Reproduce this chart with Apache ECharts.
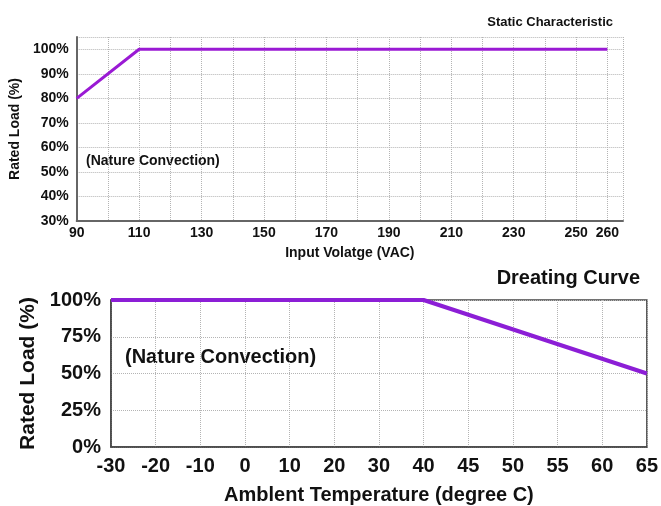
<!DOCTYPE html>
<html>
<head>
<meta charset="utf-8">
<script src="https://cdn.jsdelivr.net/npm/echarts@6/dist/echarts.min.js"></script>
<style>
	html, body { margin: 0; padding: 0; background: #fff; }
	#main { width: 661px; height: 506px; }
</style>
</head>
<body>
<div id="main"></div>
<script>
// 输入电压特性
var voltTickLabels = [ 90, 110, 130, 150, 170, 190, 210, 230, 250, 260 ];
var voltLoad = [ [ 90, 80 ], [ 110, 100 ], [ 260, 100 ] ];

// 降额曲线
var tempCategories = [ '-30', '-20', '-10', '0', '10', '20', '30', '40', '45', '50', '55', '60', '65' ];
var tempLoad = [ [ '-30', 100 ], [ '40', 100 ], [ '65', 50 ] ];

var FONT = 'Liberation Sans';

function showCharts(divId) {
	var chart = echarts.init(document.getElementById(divId));
	var option = genOption();
	if (option && typeof option === "object") {
		chart.setOption(option, true);
	}
}

function genOption() {
	var dotted = {
		show : true,
		lineStyle : {
			color : '#b4b4b4',
			type : 'dotted',
			width : 1
		}
	};
	option = {
		animation : false,
		backgroundColor : '#fff',
		textStyle : {
			fontFamily : FONT
		},
		title : [ {
			text : 'Static Characteristic',
			right : 43,
			top : 11,
			textStyle : {
				color : '#111',
				fontFamily : FONT,
				fontWeight : 'bold',
				fontSize : 13
			}
		}, {
			text : 'Dreating Curve',
			right : 16,
			top : 263,
			textStyle : {
				color : '#111',
				fontFamily : FONT,
				fontWeight : 'bold',
				fontSize : 20
			}
		} ],
		graphic : [ {
			type : 'text',
			left : 86,
			top : 154,
			style : {
				text : '(Nature Convection)',
				fill : '#111',
				font : 'bold 14px "Liberation Sans"'
			}
		}, {
			type : 'text',
			left : 125,
			top : 347,
			style : {
				text : '(Nature Convection)',
				fill : '#111',
				font : 'bold 20px "Liberation Sans"'
			}
		} ],
		grid : [ {
			left : 75,
			top : 37,
			right : 38,
			bottom : 285,
			show : false
		}, {
			left : 111,
			top : 300,
			right : 13,
			bottom : 55,
			show : true,
			borderColor : '#444',
			borderWidth : 1.5
		} ],
		xAxis : [ {
			gridIndex : 0,
			type : 'value',
			min : 90,
			max : 265,
			interval : 10,
			name : 'Input Volatge (VAC)',
			nameLocation : 'middle',
			nameGap : 25,
			nameTextStyle : {
				color : '#111',
				fontWeight : 'bold',
				fontSize : 14,
				fontFamily : FONT
			},
			axisLine : {
				show : true,
				lineStyle : {
					color : '#666',
					width : 2
				}
			},
			axisTick : {
				show : false
			},
			axisLabel : {
				color : '#111',
				fontWeight : 'bold',
				fontSize : 14,
				fontFamily : FONT,
				margin : 5,
				showMaxLabel : true,
				formatter : function(v) {
					return voltTickLabels.indexOf(v) >= 0 ? String(v) : '';
				}
			},
			splitLine : dotted
		}, {
			gridIndex : 1,
			type : 'category',
			data : tempCategories,
			boundaryGap : false,
			name : 'Amblent Temperature (degree C)',
			nameLocation : 'middle',
			nameGap : 38,
			nameTextStyle : {
				color : '#111',
				fontWeight : 'bold',
				fontSize : 20,
				fontFamily : FONT
			},
			axisLine : {
				show : true,
				lineStyle : {
					color : '#444',
					width : 1.5
				}
			},
			axisTick : {
				show : false
			},
			axisLabel : {
				color : '#111',
				fontWeight : 'bold',
				fontSize : 20,
				fontFamily : FONT,
				margin : 9,
				interval : 0
			},
			splitLine : {
				show : true,
				interval : 0,
				lineStyle : {
					color : '#b4b4b4',
					type : 'dotted',
					width : 1
				}
			}
		} ],
		yAxis : [ {
			gridIndex : 0,
			type : 'value',
			min : 30,
			max : 105,
			interval : 10,
			name : 'Rated Load (%)',
			nameLocation : 'middle',
			nameGap : 49,
			nameTextStyle : {
				color : '#111',
				fontWeight : 'bold',
				fontSize : 14,
				fontFamily : FONT
			},
			axisLine : {
				show : true,
				lineStyle : {
					color : '#666',
					width : 2
				}
			},
			axisTick : {
				show : false
			},
			axisLabel : {
				color : '#111',
				fontWeight : 'bold',
				fontSize : 14,
				fontFamily : FONT,
				margin : 8,
				showMaxLabel : true,
				formatter : function(v) {
					return v <= 100 ? v + '%' : '';
				}
			},
			splitLine : dotted
		}, {
			gridIndex : 1,
			type : 'value',
			min : 0,
			max : 100,
			interval : 25,
			name : 'Rated Load (%)',
			nameLocation : 'middle',
			nameGap : 72,
			nameTextStyle : {
				color : '#111',
				fontWeight : 'bold',
				fontSize : 21,
				fontFamily : FONT
			},
			axisLine : {
				show : true,
				lineStyle : {
					color : '#444',
					width : 1.5
				}
			},
			axisTick : {
				show : false
			},
			axisLabel : {
				color : '#111',
				fontWeight : 'bold',
				fontSize : 20,
				fontFamily : FONT,
				margin : 10,
				formatter : '{value}%'
			},
			splitLine : dotted
		} ],
		series : [ {
			name : 'Static',
			type : 'line',
			xAxisIndex : 0,
			yAxisIndex : 0,
			symbol : 'none',
			lineStyle : {
				color : '#9a1ad4',
				width : 3
			},
			data : voltLoad
		}, {
			name : 'Derating',
			type : 'line',
			xAxisIndex : 1,
			yAxisIndex : 1,
			symbol : 'none',
			lineStyle : {
				color : '#8c1ed6',
				width : 4
			},
			data : tempLoad
		} ]
	};

	return option;
}

showCharts('main');
</script>
</body>
</html>
